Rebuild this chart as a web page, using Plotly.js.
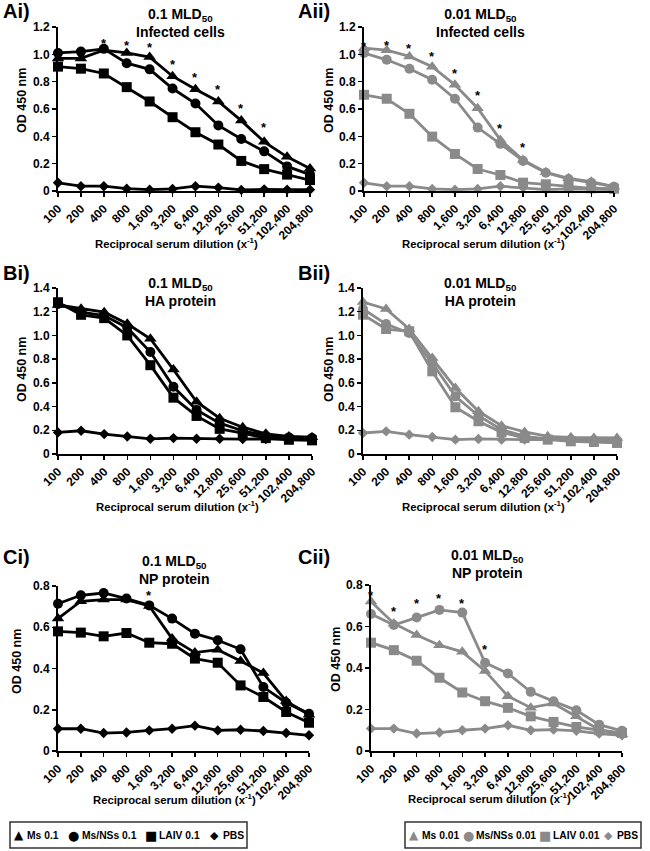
<!DOCTYPE html>
<html>
<head>
<meta charset="utf-8">
<script src="https://cdn.plot.ly/plotly-3.0.1.min.js"></script>
<style>html,body{margin:0;padding:0;background:#fff;}#chart{width:650px;height:851px;}</style>
</head>
<body>
<div id="chart"></div>
<script>
// ---------------- DATA ----------------
const dilutions = ['100','200','400','800','1,600','3,200','6,400','12,800','25,600','51,200','102,400','204,800'];

// A) Infected cells
const Ai_ms     = [0.97,0.97,1.03,1.01,0.98,0.84,0.745,0.655,0.515,0.36,0.25,0.165];
const Ai_msnss  = [1.01,1.02,1.04,0.935,0.89,0.75,0.64,0.48,0.38,0.29,0.18,0.12];
const Ai_laiv   = [0.91,0.895,0.86,0.76,0.655,0.54,0.43,0.34,0.22,0.16,0.12,0.08];
const Ai_pbs    = [0.06,0.035,0.035,0.017,0.01,0.015,0.035,0.025,0.008,0.012,0.01,0.01];

const Aii_ms    = [1.045,1.03,0.985,0.91,0.777,0.606,0.374,0.227,0.137,0.093,0.068,0.032];
const Aii_msnss = [1.01,0.96,0.895,0.814,0.675,0.464,0.345,0.22,0.134,0.088,0.061,0.032];
const Aii_laiv  = [0.704,0.675,0.565,0.398,0.271,0.161,0.117,0.061,0.049,0.037,0.02,0.017];
const Aii_pbs   = [0.06,0.035,0.035,0.015,0.01,0.015,0.035,0.025,0.01,0.015,0.012,0.01];

// B) HA protein
const Bi_ms     = [1.257,1.224,1.196,1.098,0.972,0.712,0.441,0.302,0.226,0.17,0.148,0.142];
const Bi_msnss  = [1.266,1.196,1.168,1.065,0.86,0.567,0.372,0.26,0.196,0.154,0.14,0.134];
const Bi_laiv   = [1.28,1.174,1.146,1.0,0.749,0.475,0.321,0.212,0.176,0.134,0.12,0.115];
const Bi_pbs    = [0.182,0.196,0.168,0.148,0.128,0.134,0.128,0.128,0.126,0.126,0.128,0.128];

const Bii_ms    = [1.282,1.223,1.054,0.81,0.557,0.36,0.239,0.186,0.149,0.141,0.135,0.135];
const Bii_msnss = [1.223,1.096,1.02,0.767,0.486,0.323,0.205,0.149,0.127,0.121,0.115,0.107];
const Bii_laiv  = [1.175,1.054,1.035,0.697,0.394,0.276,0.183,0.135,0.121,0.107,0.101,0.093];
const Bii_pbs   = [0.177,0.191,0.163,0.143,0.121,0.127,0.121,0.121,0.121,0.121,0.121,0.121];

// C) NP protein
const Ci_ms     = [0.642,0.726,0.734,0.734,0.703,0.545,0.477,0.491,0.436,0.378,0.242,0.176];
const Ci_msnss  = [0.714,0.755,0.766,0.739,0.706,0.642,0.569,0.537,0.493,0.31,0.234,0.181];
const Ci_laiv   = [0.58,0.574,0.556,0.572,0.525,0.52,0.448,0.428,0.318,0.262,0.189,0.137];
const Ci_pbs    = [0.108,0.108,0.087,0.09,0.1,0.108,0.123,0.1,0.103,0.097,0.087,0.076];

const Cii_ms    = [0.72,0.615,0.559,0.51,0.478,0.386,0.264,0.209,0.229,0.167,0.103,0.081];
const Cii_msnss = [0.66,0.607,0.643,0.68,0.667,0.425,0.374,0.285,0.24,0.196,0.127,0.097];
const Cii_laiv  = [0.522,0.486,0.435,0.353,0.282,0.24,0.208,0.167,0.14,0.116,0.1,0.087];
const Cii_pbs   = [0.108,0.108,0.084,0.089,0.1,0.108,0.124,0.1,0.103,0.097,0.084,0.076];

// significance asterisks (category, OD position)
const Ai_starX  = ['400','800','1,600','3,200','6,400','12,800','25,600','51,200'];
const Ai_starY  = [1.112,1.095,1.078,0.955,0.858,0.77,0.63,0.496];
const Aii_starX = ['100','200','400','800','1,600','3,200','6,400','12,800'];
const Aii_starY = [1.087,1.095,1.075,1.017,0.887,0.728,0.484,0.349];
const Ci_starX  = ['200','400','800','1,600'];
const Ci_starY  = [0.815,0.819,0.815,0.774];
const Cii_starX = ['100','200','400','800','1,600','3,200'];
const Cii_starY = [0.768,0.691,0.728,0.755,0.731,0.51];

const seriesNames01  = ['Ms 0.1','Ms/NSs 0.1','LAIV 0.1','PBS'];
const seriesNames001 = ['Ms 0.01','Ms/NSs 0.01','LAIV 0.01','PBS'];
const yTicksA = [0,0.2,0.4,0.6,0.8,1.0,1.2], yTextA = ['0','0.2','0.4','0.6','0.8','1.0','1.2'];
const yTicksB = [0,0.2,0.4,0.6,0.8,1.0,1.2,1.4], yTextB = ['0','0.2','0.4','0.6','0.8','1.0','1.2','1.4'];
const yTicksC = [0,0.2,0.4,0.6,0.8], yTextC = ['0','0.2','0.4','0.6','0.8'];

// ---------------- STYLE ----------------
const W = 650, H = 851;
const px = x => x / W, py = y => 1 - y / H;
const FONT = "Arial, 'Liberation Sans', sans-serif";
const BLACK = '#000000', GRAY = '#8a8a8a';
const symbols = ['triangle-up','circle','square','diamond'];
const sizes = [11,10,10,8];

const panels = [
  {id:'', series:[Ai_ms,Ai_msnss,Ai_laiv,Ai_pbs], names:seriesNames01, color:BLACK, x:[58,310], y:[27,191], range:[0,1.2], tv:yTicksA, tt:yTextA,
   label:'Ai)', labelX:1, labelY:11, title:'0.1 MLD<sub>50</sub><br>Infected cells', tX:180, tY:23,
   xtX:176, xtY:243, ytX:22, ytY:101, sx:Ai_starX, sy:Ai_starY},
  {id:'2', series:[Aii_ms,Aii_msnss,Aii_laiv,Aii_pbs], names:seriesNames001, color:GRAY, x:[364,614], y:[27,191], range:[0,1.2], tv:yTicksA, tt:yTextA,
   label:'Aii)', labelX:296, labelY:11, title:'0.01 MLD<sub>50</sub><br>Infected cells', tX:480, tY:23,
   xtX:483, xtY:243, ytX:329, ytY:101, sx:Aii_starX, sy:Aii_starY},
  {id:'3', series:[Bi_ms,Bi_msnss,Bi_laiv,Bi_pbs], names:seriesNames01, color:BLACK, x:[58,312], y:[288,454], range:[0,1.4], tv:yTicksB, tt:yTextB,
   label:'Bi)', labelX:1, labelY:273, title:'0.1 MLD<sub>50</sub><br>HA protein', tX:180, tY:292,
   xtX:177, xtY:506, ytX:22, ytY:370, sx:[], sy:[]},
  {id:'4', series:[Bii_ms,Bii_msnss,Bii_laiv,Bii_pbs], names:seriesNames001, color:GRAY, x:[363,617], y:[288,454], range:[0,1.4], tv:yTicksB, tt:yTextB,
   label:'Bii)', labelX:296, labelY:273, title:'0.01 MLD<sub>50</sub><br>HA protein', tX:480, tY:292,
   xtX:483, xtY:506, ytX:329, ytY:370, sx:[], sy:[]},
  {id:'5', series:[Ci_ms,Ci_msnss,Ci_laiv,Ci_pbs], names:seriesNames01, color:BLACK, x:[58,309], y:[586,751], range:[0,0.8], tv:yTicksC, tt:yTextC,
   label:'Ci)', labelX:1, labelY:557, title:'0.1 MLD<sub>50</sub><br>NP protein', tX:174, tY:570,
   xtX:174, xtY:799, ytX:17, ytY:662, sx:Ci_starX, sy:Ci_starY},
  {id:'6', series:[Cii_ms,Cii_msnss,Cii_laiv,Cii_pbs], names:seriesNames001, color:GRAY, x:[371,622], y:[585,751], range:[0,0.8], tv:yTicksC, tt:yTextC,
   label:'Cii)', labelX:296, labelY:557, title:'0.01 MLD<sub>50</sub><br>NP protein', tX:487, tY:564,
   xtX:489, xtY:798, ytX:336, ytY:660, sx:Cii_starX, sy:Cii_starY}
];

const traces = [];
const layout = {
  width: W, height: H,
  margin: {l:0, r:0, t:0, b:0},
  paper_bgcolor: '#ffffff', plot_bgcolor: 'rgba(0,0,0,0)',
  showlegend: false,
  font: {family: FONT, color: '#000', size: 12, weight: 'bold'},
  annotations: [], shapes: []
};

panels.forEach(p => {
  const xa = 'x' + p.id, ya = 'y' + p.id;
  p.series.forEach((vals, i) => {
    traces.push({
      type: 'scatter', mode: 'lines+markers',
      x: dilutions, y: vals, name: p.names[i],
      xaxis: xa, yaxis: ya, cliponaxis: false,
      line: {color: p.color, width: 2.8},
      marker: {symbol: symbols[i], size: sizes[i], color: p.color},
      hoverinfo: 'x+y+name'
    });
  });
  layout['xaxis' + p.id] = {
    type: 'category', categoryarray: dilutions, categoryorder: 'array',
    range: [0, dilutions.length - 1], domain: [px(p.x[0]), px(p.x[1])],
    anchor: ya, showline: true, linecolor: '#000', linewidth: 2,
    ticks: 'outside', ticklen: 4, tickwidth: 1.5, tickcolor: '#000',
    tickangle: -45, tickfont: {family: FONT, size: 12, weight: 'bold', color: '#000'},
    showgrid: false, zeroline: false, fixedrange: true
  };
  layout['yaxis' + p.id] = {
    range: p.range, domain: [py(p.y[1]), py(p.y[0])], anchor: xa,
    showline: true, linecolor: '#000', linewidth: 2,
    ticks: 'outside', ticklen: 4, tickwidth: 1.5, tickcolor: '#000',
    tickvals: p.tv, ticktext: p.tt, tickfont: {family: FONT, size: 12, weight: 'bold', color: '#000'},
    showgrid: false, zeroline: false, fixedrange: true
  };
  const A = layout.annotations;
  A.push({xref:'paper', yref:'paper', x:px(p.labelX), y:py(p.labelY), xanchor:'left', yanchor:'middle',
          text:p.label, showarrow:false, font:{family:FONT, size:20, weight:'bold', color:'#000'}});
  A.push({xref:'paper', yref:'paper', x:px(p.tX), y:py(p.tY), xanchor:'center', yanchor:'middle',
          text:p.title, showarrow:false, font:{family:FONT, size:14, weight:'bold', color:'#000'}});
  A.push({xref:'paper', yref:'paper', x:px(p.xtX), y:py(p.xtY), xanchor:'center', yanchor:'middle',
          text:'Reciprocal serum dilution (x<sup>-1</sup>)', showarrow:false, font:{family:FONT, size:11.3, weight:'bold', color:'#000'}});
  A.push({xref:'paper', yref:'paper', x:px(p.ytX), y:py(p.ytY), xanchor:'center', yanchor:'middle', textangle:-90,
          text:'OD 450 nm', showarrow:false, font:{family:FONT, size:12.5, weight:'bold', color:'#000'}});
  p.sx.forEach((c, k) => {
    A.push({xref:xa, yref:ya, x:dilutions.indexOf(c), y:p.sy[k], yshift:-4, xanchor:'center', yanchor:'middle',
            text:'*', showarrow:false, font:{family:FONT, size:13, weight:'bold', color:'#000'}});
  });
});

// ---------------- LEGENDS (boxed rows) ----------------
const glyphs = ['\u25B2','\u25CF','\u25A0','\u25C6'];
const glyphSize = [12,13,13,11];
// Arial Bold advance widths (em) used to space the legend items
const CW = {' ':0.278,'.':0.278,'/':0.278,'M':0.833,'s':0.556,'N':0.722,'S':0.667,'L':0.611,'A':0.722,'I':0.278,'V':0.667,'P':0.667,'B':0.722};
const emWidth = t => t.split('').reduce((s, c) => s + (CW[c] !== undefined ? CW[c] : 0.556), 0);
const LEG_FS = 10.3;
function addLegend(names, color, x0, x1, y0, y1) {
  layout.shapes.push({type:'rect', xref:'paper', yref:'paper', x0:px(x0), x1:px(x1), y0:py(y1), y1:py(y0),
                      line:{color:'#333', width:1.5}, fillcolor:'rgba(0,0,0,0)'});
  const gw = 10, gap = 2, pad = 4;
  const tw = names.map(n => emWidth(n) * LEG_FS);
  const total = tw.reduce((s, w) => s + w + gw + gap, 0);
  const between = ((x1 - x0) - 2 * pad - total) / (names.length - 1);
  let cx = x0 + pad;
  const yc = (y0 + y1) / 2;
  names.forEach((n, i) => {
    layout.annotations.push({xref:'paper', yref:'paper', x:px(cx + gw / 2), y:py(yc), xanchor:'center', yanchor:'middle',
      text:glyphs[i], showarrow:false, font:{family:"'DejaVu Sans', sans-serif", size:glyphSize[i], color:color}});
    cx += gw + gap;
    layout.annotations.push({xref:'paper', yref:'paper', x:px(cx - 1), y:py(yc), xanchor:'left', yanchor:'middle',
      text:n, showarrow:false, font:{family:FONT, size:LEG_FS, weight:'bold', color:'#000'}});
    cx += tw[i] + between;
  });
}
addLegend(seriesNames01, BLACK, 10, 247, 822, 848);
addLegend(seriesNames001, GRAY, 405, 641, 822, 848);

Plotly.newPlot('chart', traces, layout, {displayModeBar: false, staticPlot: true});
</script>
</body>
</html>
